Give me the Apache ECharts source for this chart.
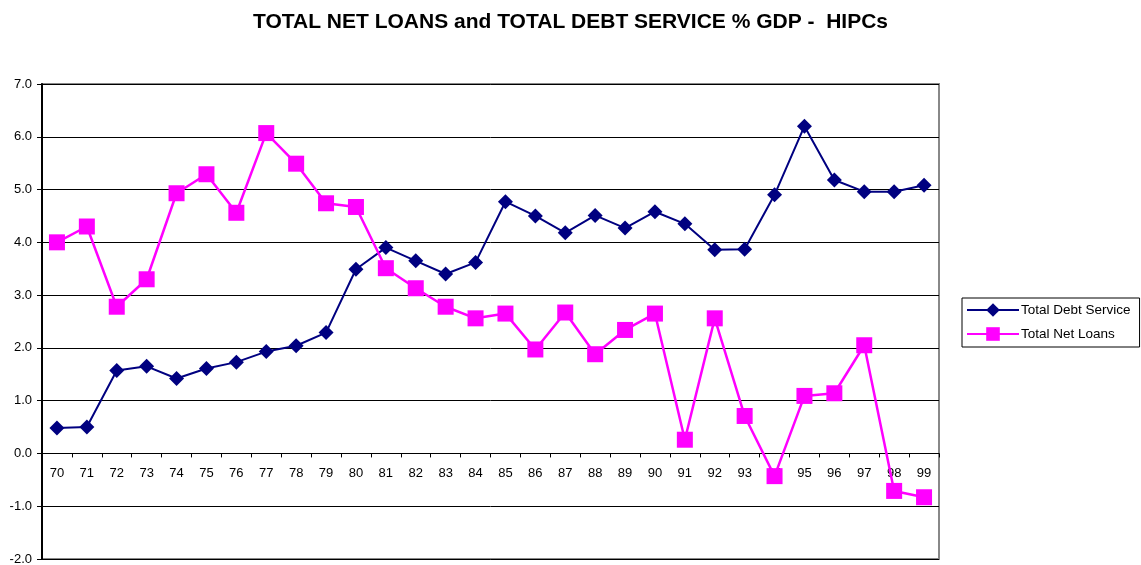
<!DOCTYPE html>
<html>
<head>
<meta charset="utf-8">
<script src="https://cdn.jsdelivr.net/npm/echarts@6/dist/echarts.min.js"></script>
<style>
  html, body { margin: 0; padding: 0; background: #fff; }
  #chart { width: 1141px; height: 565px; }
</style>
</head>
<body>
<div id="chart"></div>
<script>
// years (two-digit)
var years = ['70', '71', '72', '73', '74', '75', '76', '77', '78', '79',
  '80', '81', '82', '83', '84', '85', '86', '87', '88', '89',
  '90', '91', '92', '93', '94', '95', '96', '97', '98', '99']
var debtService = [0.48, 0.50, 1.57, 1.65, 1.42, 1.61, 1.73, 1.93, 2.04, 2.29,
  3.49, 3.90, 3.65, 3.40, 3.62, 4.77, 4.50, 4.18, 4.51, 4.27,
  4.58, 4.35, 3.86, 3.87, 4.90, 6.20, 5.18, 4.96, 4.96, 5.08]
var netLoans = [4.00, 4.30, 2.78, 3.30, 4.93, 5.29, 4.56, 6.07, 5.49, 4.74,
  4.67, 3.51, 3.13, 2.78, 2.56, 2.65, 1.97, 2.67, 1.88, 2.34,
  2.65, 0.26, 2.56, 0.71, -0.43, 1.09, 1.14, 2.05, -0.71, -0.83]

var yMin = -2
var yMax = 7
var gridTop = 84
var gridBottom = 6
var chartH = 565
// move the category axis up to the zero line (labels included)
var plotH = chartH - gridTop - gridBottom
var zeroOffset = -plotH * (0 - yMin) / (yMax - yMin)

var chart = echarts.init(document.getElementById('chart'))
var option = {
  animation: false,
  textStyle: { fontFamily: 'Liberation Sans, Arial, sans-serif' },
  title: {
    text: 'TOTAL NET LOANS and TOTAL DEBT SERVICE % GDP -  HIPCs',
    left: 'center',
    top: 7,
    textStyle: { fontSize: 21, fontWeight: 'bold', color: '#000' }
  },
  legend: {
    orient: 'vertical',
    left: 962,
    top: 298,
    padding: [5, 9, 6, 4],
    itemGap: 10,
    itemWidth: 52,
    itemHeight: 17,
    borderColor: '#000',
    borderWidth: 1,
    textStyle: { fontSize: 13.5, color: '#000', padding: [0, 0, 0, -3] },
    data: ['Total Debt Service', 'Total Net Loans']
  },
  grid: {
    left: 42,
    right: 202,
    top: gridTop,
    bottom: gridBottom,
    outerBoundsMode: 'none',
    containLabel: false,
    show: true,
    borderColor: '#888',
    borderWidth: 2
  },
  xAxis: {
    type: 'category',
    data: years,
    boundaryGap: true,
    offset: zeroOffset,
    axisLine: { onZero: false, lineStyle: { color: '#000', width: 1 } },
    axisTick: { show: true, length: 4, lineStyle: { color: '#000' } },
    axisLabel: { fontSize: 13, color: '#000', margin: 13 },
    splitLine: { show: false }
  },
  yAxis: {
    type: 'value',
    min: yMin,
    max: yMax,
    interval: 1,
    axisLine: { show: true, lineStyle: { color: '#000', width: 2 } },
    axisTick: { show: true, length: 5, lineStyle: { color: '#000' } },
    axisLabel: {
      fontSize: 13,
      color: '#000',
      margin: 10,
      formatter: function (v) { return v.toFixed(1) }
    },
    splitLine: { show: true, lineStyle: { color: '#000', width: 1 } }
  },
  series: [
    {
      name: 'Total Debt Service',
      type: 'line',
      data: debtService,
      symbol: 'diamond',
      symbolSize: 15,
      color: '#000080',
      lineStyle: { color: '#000080', width: 2 },
      itemStyle: { color: '#000080' }
    },
    {
      name: 'Total Net Loans',
      type: 'line',
      data: netLoans,
      symbol: 'rect',
      symbolSize: 16,
      color: '#ff00ff',
      lineStyle: { color: '#ff00ff', width: 2.5 },
      itemStyle: { color: '#ff00ff' }
    }
  ]
}
chart.setOption(option)
</script>
</body>
</html>
